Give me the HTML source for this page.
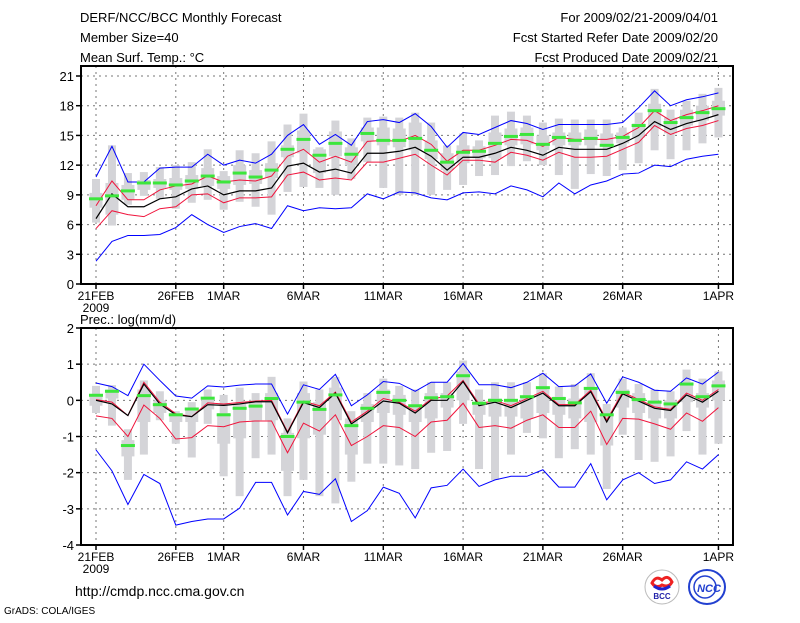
<!DOCTYPE html>
<html><head><meta charset="utf-8"><style>
body{margin:0;background:#fff;}
svg text{font-family:"Liberation Sans","Noto Sans CJK SC",sans-serif;}
</style></head><body>
<svg id="c" width="800" height="618" xmlns="http://www.w3.org/2000/svg">
<rect width="800" height="618" fill="#fff"/>
<g font-size="13" fill="#000">
<text x="80" y="22">DERF/NCC/BCC Monthly Forecast</text>
<text x="80" y="42">Member Size=40</text>
<text x="80" y="62">Mean Surf. Temp.: °C</text>
<text x="718" y="22" text-anchor="end">For 2009/02/21-2009/04/01</text>
<text x="718" y="42" text-anchor="end">Fcst Started Refer Date 2009/02/20</text>
<text x="718" y="62" text-anchor="end">Fcst Produced Date 2009/02/21</text>
<text x="80" y="324">Prec.: log(mm/d)</text>
<text x="75" y="596" font-size="14">http://cmdp.ncc.cma.gov.cn</text>
<text x="4" y="614" font-size="10">GrADS: COLA/IGES</text>
</g>
<g>
<circle cx="662" cy="587" r="17" fill="#fff" stroke="#bbb"/>
<path d="M652 583 q4 -8 10 -3 q6 -6 10 2 q-3 6 -10 3 q-6 4 -10 -2z" fill="none" stroke="#e22" stroke-width="3"/>
<path d="M654 586 q8 6 16 0" fill="none" stroke="#22c" stroke-width="3"/>
<text x="662" y="599" font-size="8" font-weight="bold" text-anchor="middle" fill="#22a">BCC</text>
</g>
<g>
<ellipse cx="707" cy="587" rx="18" ry="17" fill="none" stroke="#2240d0" stroke-width="2"/>
<circle cx="705" cy="587" r="11" fill="none" stroke="#2240d0" stroke-width="1.5"/>
<text x="709" y="592" font-size="11" font-style="italic" font-weight="bold" text-anchor="middle" fill="#2240d0">NCC</text>
</g>
<g id="plots"></g>
</svg>
<script>
const days = ["21FEB","26FEB","1MAR","6MAR","11MAR","16MAR","21MAR","26MAR","1APR"];
const dayIdx = [0,5,8,13,18,23,28,33,39];
// Temperature
const tMax = [10.8,13.9,10.3,10.3,11.7,11.8,11.8,13.1,12.0,12.5,12.2,13.1,15.0,16.1,14.1,15.1,14.0,16.4,16.6,16.3,17.2,15.9,13.8,15.3,15.1,15.8,16.5,16.2,15.6,16.1,16.1,16.1,16.1,16.3,17.8,19.5,18.0,18.6,18.9,19.3];
const tHi = [7.9,10.4,8.5,8.5,9.5,9.9,10.1,10.9,10.3,10.5,10.4,10.9,12.9,13.6,12.3,12.9,12.3,14.4,14.5,14.4,15.0,14.1,12.4,13.5,13.5,14.0,14.6,14.5,13.9,14.8,14.6,14.6,14.6,14.9,15.8,17.5,16.5,17.1,17.5,18.0];
const tMean = [6.6,9.1,7.8,7.8,8.6,8.8,9.6,9.9,9.0,9.4,9.4,9.7,11.9,12.2,11.3,11.6,11.2,13.2,13.2,13.4,13.8,12.9,11.5,12.8,12.8,13.2,13.8,13.5,13.0,13.8,13.6,13.6,13.6,14.2,15.0,16.4,15.6,16.2,16.6,17.1];
const tLo = [5.6,7.4,7.0,6.8,7.6,7.8,9.0,9.1,8.2,8.7,8.7,8.8,11.0,11.3,10.5,10.7,10.5,12.3,12.3,12.7,13.1,12.0,11.0,12.5,12.5,12.3,13.3,13.0,12.5,13.3,12.8,12.8,12.9,13.6,14.3,16.0,15.1,15.7,16.0,16.5];
const tMin = [2.3,4.3,4.9,4.9,5.0,5.7,7.0,6.0,5.2,5.8,6.1,5.6,7.9,7.4,7.7,7.6,7.7,9.1,8.6,9.3,9.2,8.7,8.5,9.2,9.3,9.1,9.9,9.5,8.8,10.2,9.1,10.0,10.4,11.1,11.2,12.0,11.85,12.6,12.9,13.1];
const tObs = [8.6,8.9,9.4,10.2,10.2,10.0,10.4,10.9,10.3,11.2,10.8,11.5,13.6,14.6,13.0,14.2,13.1,15.2,14.5,14.5,14.7,13.5,12.3,13.3,13.4,14.2,14.9,15.1,14.1,14.8,14.5,14.7,14.0,14.8,16.0,17.5,16.3,16.8,17.3,17.7];
const tBarTop = [10.6,14.0,11.2,11.3,11.8,12.0,12.3,13.6,11.4,13.5,13.2,14.4,16.1,17.2,13.8,16.5,14.7,16.8,16.9,16.8,17.3,16.3,14.0,15.2,14.5,17.0,17.4,17.0,16.3,16.7,16.6,16.6,16.6,15.8,17.3,19.7,17.6,18.5,19.2,19.8];
const tBarBot = [6.2,5.9,8.0,8.9,8.6,7.6,8.2,8.5,7.5,8.3,7.8,7.0,9.3,9.8,9.7,9.0,10.6,12.3,9.7,9.0,9.0,9.0,9.5,10.0,10.9,11.0,11.9,12.4,12.0,11.0,9.6,11.1,10.9,11.5,12.2,13.5,12.6,13.5,14.2,14.8];
const tBoxTop = [9.2,10.2,10.0,10.5,10.6,10.7,11.0,11.7,10.9,12.0,11.5,12.2,14.0,15.5,13.6,15.4,13.8,15.8,15.8,15.7,16.3,14.5,13.2,14.0,13.9,15.3,15.7,15.8,15.0,15.3,15.3,15.6,15.2,15.3,16.2,18.2,16.8,17.6,18.0,18.5];
const tBoxBot = [7.7,7.0,8.5,9.5,9.7,9.5,9.6,9.9,9.6,10.0,10.1,10.7,12.8,13.2,11.2,12.9,12.0,14.4,14.0,13.8,13.5,12.6,11.5,12.2,12.7,12.7,14.0,14.1,13.5,14.0,14.0,14.0,14.0,14.2,14.8,15.8,15.2,16.0,16.5,17.0];
const tTicks = [0,3,6,9,12,15,18,21];
// Precipitation
const pMax = [0.48,0.38,0.13,1.0,0.55,0.12,0.06,0.4,0.37,0.42,0.45,0.45,-0.38,0.43,0.3,0.72,-0.15,0.15,0.52,0.47,0.25,0.5,0.5,1.02,0.43,0.43,0.35,0.5,0.75,0.38,0.4,0.73,-0.08,0.65,0.5,0.28,0.25,0.62,0.45,0.78];
const pHi = [0.02,-0.05,-0.42,0.5,-0.05,-0.37,-0.45,-0.07,-0.1,-0.06,-0.02,0.0,-0.87,-0.02,-0.15,0.23,-0.6,-0.3,0.05,-0.05,-0.3,0.03,0.12,0.55,-0.1,0.0,-0.15,0.05,0.25,-0.12,-0.12,0.28,-0.55,0.23,0.02,-0.18,-0.25,0.2,0.0,0.3];
const pMean = [0.0,-0.1,-0.42,0.45,-0.1,-0.4,-0.45,-0.12,-0.14,-0.1,-0.04,-0.04,-0.9,-0.06,-0.2,0.2,-0.65,-0.35,-0.02,-0.08,-0.35,0.0,0.0,0.52,-0.15,-0.05,-0.2,0.0,0.2,-0.15,-0.15,0.24,-0.6,0.18,-0.02,-0.22,-0.28,0.15,-0.05,0.25];
const pLo = [-0.43,-0.5,-1.0,-0.13,-0.5,-1.07,-1.03,-0.7,-0.73,-0.6,-0.57,-0.57,-1.45,-0.63,-0.85,-0.4,-1.25,-1.0,-0.7,-0.75,-1.0,-0.6,-0.55,-0.08,-0.75,-0.7,-0.77,-0.55,-0.4,-0.75,-0.75,-0.3,-1.22,-0.5,-0.52,-0.65,-0.8,-0.35,-0.58,-0.2];
const pMin = [-1.37,-1.95,-2.88,-2.05,-2.3,-3.45,-3.35,-3.28,-3.28,-2.98,-2.27,-2.27,-3.17,-2.52,-2.6,-2.17,-3.35,-3.05,-2.4,-2.57,-3.25,-2.42,-2.35,-1.9,-2.38,-2.2,-2.1,-2.1,-1.92,-2.4,-2.4,-1.75,-2.75,-2.2,-2.0,-2.3,-2.2,-1.7,-1.9,-1.5];
const pObs = [0.14,0.25,-1.25,0.13,-0.12,-0.4,-0.24,0.06,-0.4,-0.22,-0.16,0.05,-1.0,-0.05,-0.25,0.15,-0.7,-0.22,0.22,0.0,-0.15,0.07,0.1,0.68,-0.08,0.0,0.0,0.1,0.35,0.05,-0.07,0.33,-0.4,0.22,0.02,-0.05,-0.1,0.45,0.1,0.4];
const pBarTop = [0.4,0.42,-0.8,0.55,0.25,-0.3,-0.05,0.3,0.15,0.35,0.2,0.65,-0.5,0.52,0.3,0.65,-0.3,0.2,0.6,0.4,0.3,0.5,0.5,1.1,0.3,0.5,0.5,0.5,0.75,0.38,0.45,0.75,-0.1,0.6,0.45,0.3,0.25,0.85,0.6,0.8];
const pBarBot = [-0.35,-0.7,-2.2,-1.5,-0.55,-1.2,-1.58,-0.65,-2.1,-2.65,-1.6,-1.5,-2.65,-2.2,-2.65,-2.85,-2.25,-1.75,-1.75,-1.8,-1.9,-1.45,-1.4,-0.65,-1.9,-2.2,-1.5,-0.9,-1.05,-1.6,-1.35,-1.5,-2.45,-0.95,-1.65,-1.7,-1.55,-0.85,-1.5,-1.2];
const pBoxTop = [0.15,0.3,-1.1,0.3,0.0,-0.35,-0.2,0.05,-0.35,-0.1,0.0,0.2,-0.9,0.2,-0.05,0.35,-0.5,-0.1,0.3,0.15,-0.2,0.2,0.2,0.8,-0.05,0.05,-0.05,0.1,0.3,0.1,0.05,0.35,-0.4,0.3,0.2,0.0,0.0,0.5,0.2,0.55];
const pBoxBot = [-0.15,0.05,-1.55,-0.6,-0.35,-0.6,-0.6,-0.25,-1.2,-1.05,-0.55,-0.55,-1.95,-1.05,-0.95,-0.55,-1.5,-0.6,-0.35,-0.4,-0.6,-0.5,-0.2,0.0,-0.4,-0.45,-0.45,-0.5,-0.35,-0.4,-0.5,-0.6,-1.25,-0.2,-0.35,-0.5,-0.5,-0.05,-0.2,0.0];
const pTicks = [-4,-3,-2,-1,0,1,2];

const NS="http://www.w3.org/2000/svg";
const root=document.getElementById('plots');
function mk(tag,attrs,parent){const e=document.createElementNS(NS,tag);for(const k in attrs)e.setAttribute(k,attrs[k]);(parent||root).appendChild(e);return e;}
const xs = i => 96 + i*15.96;

function panel(p){
  const g=mk('g',{});
  
  
  const y = v => p.y0 - (v - p.vmin)*(p.y0-p.y1)/(p.vmax-p.vmin);
  // grid
  p.ticks.forEach(t=>{
    const gl=mk('line',{x1:81,x2:733,y1:y(t),y2:y(t),stroke:'#777','stroke-dasharray':'2,4','stroke-width':1},g);
    
    
    const tl=mk('text',{x:74,y:y(t)+5,'text-anchor':'end','font-size':13},g);
    tl.textContent=t;
    
    
    mk('line',{x1:76,x2:81,y1:y(t),y2:y(t),stroke:'#000','stroke-width':1.5},g);
  });
  dayIdx.forEach((d,k)=>{
    const gl=mk('line',{x1:xs(d),x2:xs(d),y1:p.top,y2:p.y0,stroke:'#777','stroke-dasharray':'2,4','stroke-width':1},g);
    
    
    mk('line',{x1:xs(d),x2:xs(d),y1:p.y0,y2:p.y0+5,stroke:'#000','stroke-width':1.5},g);
    const tl=mk('text',{x:xs(d),y:p.y0+16,'text-anchor':'middle','font-size':12},g);
    tl.textContent=days[k];
    
    
  });
  const yr=mk('text',{x:96,y:p.y0+28,'text-anchor':'middle','font-size':12},g);
  yr.textContent='2009';
  
  
  // gray bars
  for(let i=0;i<40;i++){
    const b=mk('rect',{x:xs(i)-4,y:y(p.bt[i]),width:8,height:y(p.bb[i])-y(p.bt[i]),fill:'#d4d4d8'},g);
    
    
    const bx=mk('rect',{x:xs(i)-6.5,y:y(p.xt[i]),width:13,height:y(p.xb[i])-y(p.xt[i]),fill:'#d4d4d8'},g);
    
    
  }
  function line(arr,color,name,w){
    const pl=mk('polyline',{points:arr.map((v,i)=>xs(i)+','+y(v)).join(' '),fill:'none',stroke:color,'stroke-width':w||1},g);
    
    
  }
  line(p.mn,'#0000ff','min-line');
  line(p.lo,'#f0143c','lower-line');
  line(p.mx,'#0000ff','max-line');
  line(p.hi,'#f0143c','upper-line');
  line(p.me,'#000','mean-line',1.2);
  for(let i=0;i<40;i++){
    const o=mk('rect',{x:xs(i)-7,y:y(p.ob[i])-1.5,width:14,height:3,fill:'#3ce63c'},g);
    
    
  }
  const f=mk('rect',{x:81,y:p.top,width:652,height:p.y0-p.top,fill:'none',stroke:'#000','stroke-width':2},g);
  
  
}
panel({name:'temperature-panel',top:66,y0:284,y1:76,vmin:0,vmax:21,ticks:tTicks,mx:tMax,hi:tHi,me:tMean,lo:tLo,mn:tMin,ob:tObs,bt:tBarTop,bb:tBarBot,xt:tBoxTop,xb:tBoxBot});
panel({name:'precipitation-panel',top:328,y0:545,y1:328,vmin:-4,vmax:2,ticks:pTicks,mx:pMax,hi:pHi,me:pMean,lo:pLo,mn:pMin,ob:pObs,bt:pBarTop,bb:pBarBot,xt:pBoxTop,xb:pBoxBot});
</script>
</body></html>
